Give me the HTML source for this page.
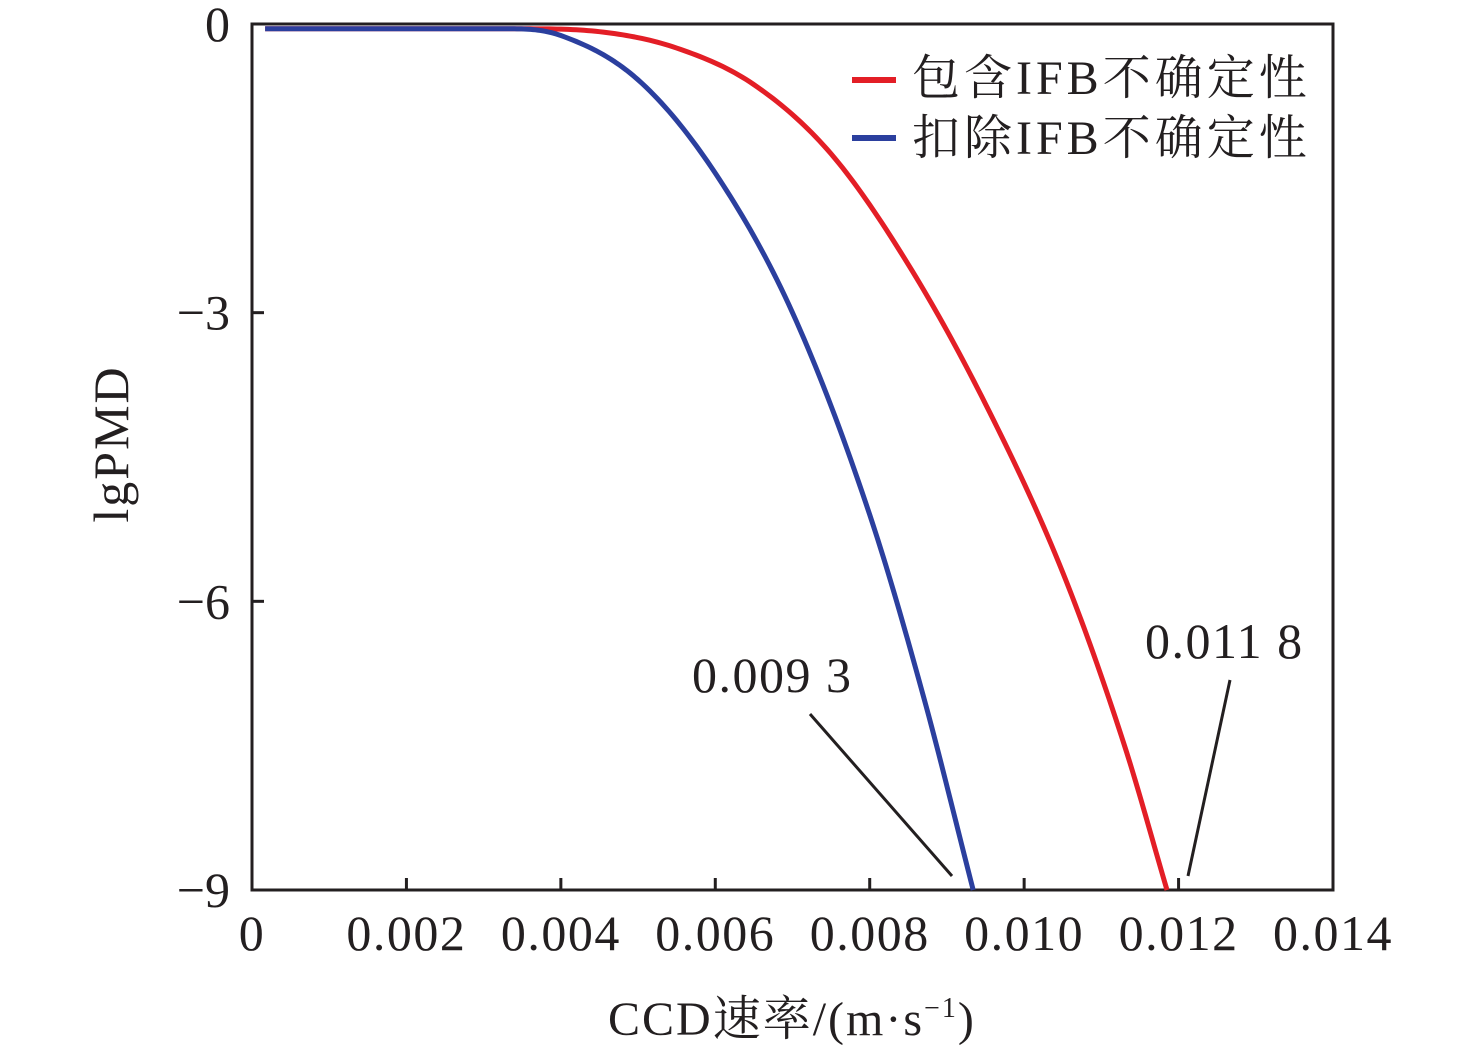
<!DOCTYPE html>
<html><head><meta charset="utf-8"><style>
body{margin:0;background:#fff}
svg text{font-family:"Liberation Serif","Noto Serif CJK SC",serif;fill:#231f20}
</style></head><body>
<svg width="1476" height="1049">
<g id="axes"></g><g id="series"></g>
<text x="608" y="1035" font-size="48" letter-spacing="2">CCD速率/(m·s<tspan font-size="28" dy="-18">−1</tspan><tspan dy="18">)</tspan></text>
<text transform="translate(128,444) rotate(-90)" font-size="50" letter-spacing="2" text-anchor="middle">lgPMD</text>
<g>
<line x1="852" y1="80" x2="896" y2="80" stroke="#e31e26" stroke-width="6"/>
<text x="912" y="94" font-size="48" letter-spacing="4">包含IFB不确定性</text>
<line x1="852" y1="138" x2="896" y2="138" stroke="#2b3f9e" stroke-width="6"/>
<text x="912" y="154" font-size="48" letter-spacing="4">扣除IFB不确定性</text>
</g>
<text x="692" y="692" font-size="50" letter-spacing="1.5">0.009 3</text>
<line x1="810" y1="714" x2="952" y2="876" stroke="#231f20" stroke-width="3"/>
<text x="1145" y="658" font-size="50" letter-spacing="1.5">0.011 8</text>
<line x1="1230" y1="680" x2="1188" y2="876" stroke="#231f20" stroke-width="3"/>
</svg>
<script>
const xTicks=[0,0.002,0.004,0.006,0.008,0.010,0.012,0.014];
const xTickLabels=["0","0.002","0.004","0.006","0.008","0.010","0.012","0.014"];
const yTicks=[0,-3,-6,-9];
const yTickLabels=["0","−3","−6","−9"];
const blueX=[0.00017,0.0034,0.0040,0.0050,0.0060,0.0070,0.0080,0.0087,0.00934];
const blueY=[-0.05,-0.05,-0.12,-0.58,-1.55,-3.0,-5.1,-7.0,-9];
const redX=[0.00017,0.0035,0.0045,0.0055,0.0065,0.0075,0.0085,0.0095,0.0105,0.0113,0.01185];
const redY=[-0.05,-0.05,-0.08,-0.25,-0.63,-1.35,-2.5,-3.95,-5.7,-7.5,-9];
const NS="http://www.w3.org/2000/svg";
const X0=252,X1=1333,Y0=24,Y1=890;
const sx=v=>X0+(v/0.014)*(X1-X0);
const sy=v=>Y0+(v/-9)*(Y1-Y0);
function mk(t,a,p){const e=document.createElementNS(NS,t);for(const k in a)e.setAttribute(k,a[k]);p.appendChild(e);return e;}
const ax=document.getElementById('axes');
const fr=mk('rect',{x:X0,y:Y0,width:X1-X0,height:Y1-Y0,fill:'none',stroke:'#231f20','stroke-width':3},ax);


xTicks.forEach((v,i)=>{
 const l=mk('line',{x1:sx(v),x2:sx(v),y1:Y1,y2:Y1-12,stroke:'#231f20','stroke-width':3},ax);
 
 
 const t=mk('text',{x:sx(v),y:950,'font-size':50,'letter-spacing':1.5,'text-anchor':'middle'},ax);t.textContent=xTickLabels[i];
 
 
});
yTicks.forEach((v,i)=>{
 const l=mk('line',{x1:X0,x2:X0+12,y1:sy(v),y2:sy(v),stroke:'#231f20','stroke-width':3},ax);
 
 
 const t=mk('text',{x:230,y:sy(v)+17,'font-size':50,'text-anchor':'end'},ax);t.textContent=yTickLabels[i];
 
 
});
function curve(xs,ys){
 const n=xs.length,d=[],m=new Array(n);
 for(let i=0;i<n-1;i++)d.push((ys[i+1]-ys[i])/(xs[i+1]-xs[i]));
 m[0]=d[0];m[n-1]=d[n-2];
 for(let i=1;i<n-1;i++)m[i]=(d[i-1]*d[i]<=0)?0:(d[i-1]+d[i])/2;
 for(let i=0;i<n-1;i++){if(d[i]===0){m[i]=0;m[i+1]=0;continue;}
  const a=m[i]/d[i],b=m[i+1]/d[i],s=a*a+b*b;if(s>9){const t=3/Math.sqrt(s);m[i]=t*a*d[i];m[i+1]=t*b*d[i];}}
 let path='M'+sx(xs[0])+','+sy(ys[0]);
 for(let i=0;i<n-1;i++){const h=xs[i+1]-xs[i];
  for(let k=1;k<=20;k++){const t=k/20,t2=t*t,t3=t2*t;
   const y=(2*t3-3*t2+1)*ys[i]+(t3-2*t2+t)*h*m[i]+(-2*t3+3*t2)*ys[i+1]+(t3-t2)*h*m[i+1];
   path+=' L'+sx(xs[i]+t*h).toFixed(2)+','+sy(y).toFixed(2);}}
 return path;}
const se=document.getElementById('series');
const r=mk('path',{d:curve(redX,redY),fill:'none',stroke:'#e31e26','stroke-width':5,'stroke-linejoin':'round'},se);


const b=mk('path',{d:curve(blueX,blueY),fill:'none',stroke:'#2b3f9e','stroke-width':5,'stroke-linejoin':'round'},se);


</script>
</body></html>
